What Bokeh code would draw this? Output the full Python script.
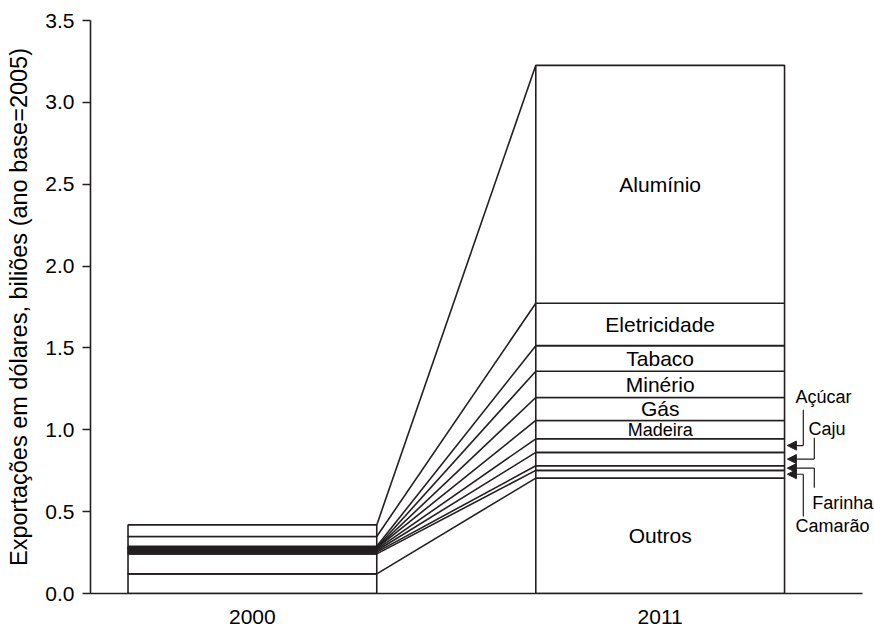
import numpy as np
from bokeh.plotting import figure
from bokeh.models import (Range1d, FixedTicker, NumeralTickFormatter, Arrow,
                          NormalHead, ColumnDataSource, Label)
from bokeh.core.properties import value
from bokeh.embed import file_html
from bokeh.resources import INLINE

# ---------------- data ----------------
years = ["2000", "2011"]
categories = ["Outros", "Camarão", "Farinha", "Caju", "Açúcar", "Madeira",
              "Gás", "Minério", "Tabaco", "Eletricidade", "Alumínio"]
values_2000 = [0.120, 0.122, 0.011, 0.008, 0.008, 0.008, 0.001, 0.003, 0.007, 0.060, 0.071]
values_2011 = [0.705, 0.047, 0.028, 0.082, 0.083, 0.112, 0.140, 0.161, 0.156, 0.259, 1.453]
inside_labels = ["Outros", "Madeira", "Gás", "Minério", "Tabaco", "Eletricidade", "Alumínio"]
callout_labels = ["Açúcar", "Caju", "Farinha", "Camarão"]
y_ticks = [0.0, 0.5, 1.0, 1.5, 2.0, 2.5, 3.0, 3.5]
y_label = "Exportações em dólares, biliões (ano base=2005)"

# ---------------- style ----------------
FONT = "Liberation Sans"
INK = "#231f20"
HALF = 0.305          # half bar width (data units)
x_pos = [0, 1]
X_START, X_AXIS_END, X_END = -0.397, 1.496, 1.5256

p = figure(width=874, height=626,
           x_range=Range1d(X_START, X_END), y_range=Range1d(0, 3.5),
           output_backend="svg", toolbar_location=None,
           min_border_left=90, min_border_right=0,
           min_border_top=20, min_border_bottom=32)
p.grid.visible = False
p.outline_line_color = None
p.background_fill_color = "white"

# ---------------- bars ----------------
cum2000 = np.cumsum(values_2000)
cum2011 = np.cumsum(values_2011)
bot2000 = np.concatenate([[0], cum2000[:-1]])
bot2011 = np.concatenate([[0], cum2011[:-1]])

# connecting lines between the boundaries
p.segment(x0=[x_pos[0] + HALF] * len(categories), y0=cum2000,
          x1=[x_pos[1] - HALF] * len(categories), y1=cum2011,
          line_color=INK, line_width=1.6)

n = len(categories)
quad_src = ColumnDataSource(dict(
    left=[x_pos[0] - HALF] * n + [x_pos[1] - HALF] * n,
    right=[x_pos[0] + HALF] * n + [x_pos[1] + HALF] * n,
    bottom=list(bot2000) + list(bot2011),
    top=list(cum2000) + list(cum2011),
))
p.quad(left="left", right="right", bottom="bottom", top="top", source=quad_src,
       fill_color="white", line_color=INK, line_width=1.6)

# labels inside the 2011 bar
lab_y, lab_t, lab_s = [], [], []
for c in inside_labels:
    i = categories.index(c)
    lab_y.append((bot2011[i] + cum2011[i]) / 2)
    lab_t.append(c)
    lab_s.append("18px" if c == "Madeira" else "21px")
p.text(x=[x_pos[1]] * len(lab_t), y=lab_y, text=lab_t,
       text_font=value(FONT), text_font_size=lab_s,
       text_align="center", text_baseline="middle", text_color="black")

# callouts for thin segments
callout_layout = {
    # name: (vertical x, vertical end y, text x, text y)
    "Açúcar": (1.351, 1.122, 1.332, 1.203),
    "Caju": (1.378, 0.951, 1.364, 1.004),
    "Farinha": (1.378, 0.646, 1.373, 0.555),
    "Camarão": (1.351, 0.471, 1.332, 0.410),
}
tip_x = x_pos[1] + 0.312
for c in callout_labels:
    i = categories.index(c)
    ym = (bot2011[i] + cum2011[i]) / 2
    xv, yv, xt, yt = callout_layout[c]
    p.segment(x0=[xv], y0=[ym], x1=[xv], y1=[yv], line_color=INK, line_width=1.2)
    p.add_layout(Arrow(end=NormalHead(size=9, fill_color=INK, line_color=INK, line_width=1),
                       x_start=xv, y_start=ym, x_end=tip_x, y_end=ym,
                       line_color=INK, line_width=1.2))
    p.add_layout(Label(x=xt, y=yt, text=c, text_font=FONT, text_font_size="18px",
                       text_align="left", text_baseline="middle", text_color="black"))

# ---------------- axes ----------------
p.yaxis.ticker = FixedTicker(ticks=y_ticks)
p.yaxis.formatter = NumeralTickFormatter(format="0.0")
p.yaxis.axis_label = y_label
p.yaxis.axis_label_text_font = FONT
p.yaxis.axis_label_text_font_size = "23.5px"
p.yaxis.axis_label_text_font_style = "normal"
p.yaxis.axis_label_text_color = "black"
p.yaxis.axis_label_standoff = 10
p.yaxis.major_label_text_font = FONT
p.yaxis.major_label_text_font_size = "21px"
p.yaxis.major_label_text_color = "black"
p.yaxis.major_label_standoff = 8
p.yaxis.major_tick_out = 8
p.yaxis.major_tick_in = 0
p.yaxis.minor_tick_line_color = None
p.yaxis.axis_line_width = 1.6
p.yaxis.axis_line_color = INK
p.yaxis.major_tick_line_color = INK
p.yaxis.major_tick_line_width = 1.6

p.xaxis.bounds = (X_START, X_AXIS_END)
p.xaxis.ticker = FixedTicker(ticks=x_pos)
p.xaxis.major_label_overrides = {x_pos[0]: years[0], x_pos[1]: years[1]}
p.xaxis.major_label_text_font = FONT
p.xaxis.major_label_text_font_size = "21px"
p.xaxis.major_label_text_color = "black"
p.xaxis.major_label_standoff = 16
p.xaxis.major_tick_out = 0
p.xaxis.major_tick_in = 0
p.xaxis.minor_tick_line_color = None
p.xaxis.axis_line_width = 1.6
p.xaxis.axis_line_color = INK

open("out.html", "w").write(file_html(p, INLINE))
